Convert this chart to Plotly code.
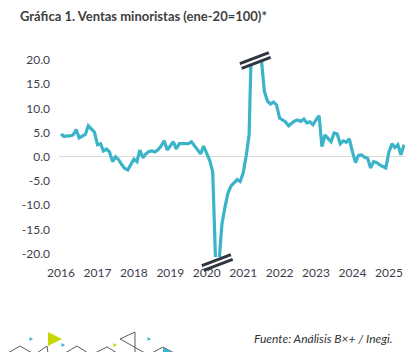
import plotly.graph_objects as go
import pandas as pd

# ---- data ----
start_month = "2016-01-01"
values = [
    4.7, 4.2, 4.3, 4.3, 4.5, 5.6, 3.9, 4.2, 4.6, 6.4, 5.7, 5.1,        # 2016
    2.5, 2.7, 1.2, 1.6, 1.0, -1.0, 0.0, -0.6, -1.6, -2.4, -2.7, -1.6,  # 2017
    -0.5, -1.0, 1.4, -0.2, 0.6, 1.1, 1.2, 1.0, 1.5, 2.2, 3.3, 1.4,     # 2018
    2.3, 3.1, 1.6, 2.7, 2.7, 2.7, 2.7, 3.1, 2.3, 1.5, 0.6, 2.2,        # 2019
    0.6, -0.8, -3.1, -23.0, -22.5, -14.0, -10.5, -7.5, -6.0, -5.3, -4.7, -5.1,  # 2020
    -3.3, 0.3, 4.5, 30.0, 29.0, 27.0, 19.5, 13.5, 11.5, 10.9, 11.3, 10.7,      # 2021
    8.0, 7.6, 7.2, 6.4, 6.9, 7.4, 7.6, 7.3, 7.8, 7.0, 7.2, 6.6,        # 2022
    7.6, 8.5, 2.1, 4.5, 3.8, 3.1, 4.9, 4.7, 2.7, 3.3, 3.0, 3.7,        # 2023
    1.0, -1.2, 0.3, 0.4, -0.1, -0.3, -2.3, -1.0, -1.2, -1.7, -2.0, -2.3,  # 2024
    1.0, 2.7, 1.9, 2.5, 0.4, 2.5,                                       # 2025
]
dates = pd.date_range(start_month, periods=len(values), freq="MS")
year_ticks = [str(y) for y in range(2016, 2026)]
y_ticks = [-20, -15, -10, -5, 0, 5, 10, 15, 20]
y_ticktext = ["%.1f" % v for v in y_ticks]

title_text = "Gráfica 1. Ventas minoristas (ene-20=100)*"
source_text = "Fuente: Análisis B×+ / Inegi."

# ---- layout geometry ----
W, H = 420, 352
L, R, T, B = 59, 15, 58, 95
pw, ph = W - L - R, H - T - B
x_range = [pd.Timestamp("2015-12-12"), pd.Timestamp("2025-06-11")]
y_range = [-20.7, 20.4]

LINE = "#3bb3c9"
DARK = "#2f3640"
TXT = "#3d3d4d"
FONT = "Lato"


def xfrac(d):
    return (pd.Timestamp(d) - x_range[0]) / (x_range[1] - x_range[0])


def px(xp, yp):
    return (xp - L) / pw, (H - B - yp) / ph


fig = go.Figure()
fig.add_trace(go.Scatter(
    x=dates, y=values, mode="lines",
    line=dict(color=LINE, width=3.2, shape="linear"),
    hoverinfo="skip", showlegend=False,
))

shapes = []

# axis-break symbols where the series leaves the range
def break_mark(xa, ya):
    for color, width in ((DARK, 8), ("white", 2)):
        shapes.append(dict(
            type="line", xref="paper", yref="paper",
            xsizemode="pixel", ysizemode="pixel",
            xanchor=xa, yanchor=ya,
            x0=-14.5, x1=14.5, y0=-5.5, y1=5.5,
            line=dict(color=color, width=width), layer="above",
        ))

low = [d for d, v in zip(dates, values) if v < y_range[0]]
high = [d for d, v in zip(dates, values) if v > y_range[1]]
if low:
    mid = low[0] + (low[-1] - low[0]) / 2
    break_mark(xfrac(mid), -5.5 / ph)
if high:
    mid = high[0] + (high[-1] - high[0]) / 2
    break_mark(xfrac(mid), 1 - 2.5 / ph)

# decorative triangles (bottom-left logo strip)
def path(pts, close=True):
    s = ""
    for i, (a, b) in enumerate(pts):
        xp, yp = px(a, b)
        s += ("M" if i == 0 else "L") + "%.5f,%.5f " % (xp, yp)
    return s + ("Z" if close else "")

gray = "#5a5a5a"
for pts in [
    [(8, 353), (20, 346), (32, 353)],
    [(37, 353), (47, 346), (48, 353)],
    [(65, 353), (77, 346), (88, 353)],
    [(95, 353), (107, 347), (117, 353)],
    [(135, 353), (135, 332), (120, 339), (145, 353)],
]:
    shapes.append(dict(type="path", xref="paper", yref="paper",
                       path=path(pts, close=False),
                       line=dict(color=gray, width=1), layer="above"))
shapes.append(dict(type="path", xref="paper", yref="paper",
                   path=path([(152, 353), (163, 347), (174, 353)], close=False),
                   line=dict(color=gray, width=1)))
shapes.append(dict(type="path", xref="paper", yref="paper",
                   path=path([(163, 347), (174, 353), (163, 353)]),
                   fillcolor=LINE, line=dict(width=0)))
shapes.append(dict(type="path", xref="paper", yref="paper",
                   path=path([(48, 332), (48, 346), (62, 339)]),
                   fillcolor="#c5d800", line=dict(width=0)))
for (cx, cy, col) in [(31, 339, LINE), (63, 345, LINE), (149, 339, LINE), (115, 345, "#c5d800")]:
    shapes.append(dict(type="path", xref="paper", yref="paper",
                       path=path([(cx - 1.5, cy - 2), (cx - 1.5, cy + 2), (cx + 2, cy)]),
                       fillcolor=col, line=dict(width=0)))

sx, sy = px(395, 338)
fig.add_annotation(text="<i>" + source_text + "</i>", xref="paper", yref="paper",
                   x=sx, y=sy, xanchor="right", yanchor="middle", showarrow=False,
                   font=dict(family=FONT, size=12, color="#333333"))

fig.update_layout(
    width=W, height=H,
    margin=dict(l=L, r=R, t=T, b=B, pad=0),
    paper_bgcolor="white", plot_bgcolor="white",
    title=dict(text=title_text, x=20 / W, xref="container", xanchor="left",
               y=1 - 16 / H, yref="container", yanchor="middle",
               font=dict(family=FONT, size=13, color="#404040", weight=700)),
    shapes=shapes,
    xaxis=dict(type="date", range=x_range, showgrid=False, zeroline=False,
               showline=False, ticks="",
               tickvals=[pd.Timestamp(y + "-01-01") for y in year_ticks],
               ticktext=year_ticks, ticklabelstandoff=7,
               tickfont=dict(family=FONT, size=12, color=TXT)),
    yaxis=dict(range=y_range, showgrid=False, zeroline=True,
               zerolinecolor="#d9d9d9", zerolinewidth=1, showline=False,
               ticks="", tickvals=y_ticks, ticktext=y_ticktext,
               ticklabelstandoff=8,
               tickfont=dict(family=FONT, size=12, color=TXT)),
)

fig.write_html("out.html")
